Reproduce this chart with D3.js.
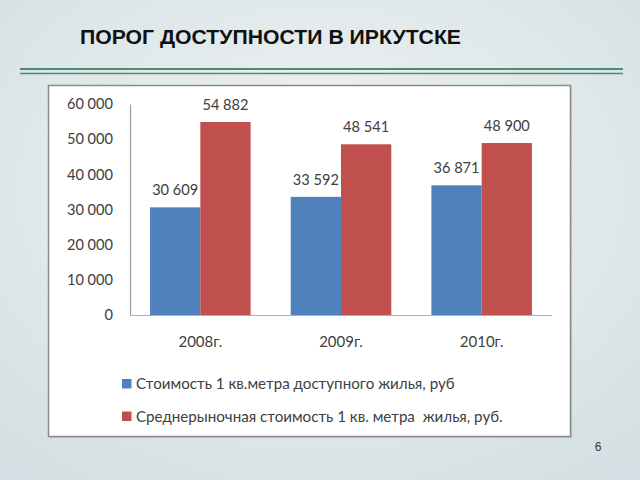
<!DOCTYPE html>
<html><head><meta charset="utf-8">
<script src="https://cdn.jsdelivr.net/npm/d3@7"></script>
<style>html,body{margin:0;padding:0;background:#dfe7ea;}svg{display:block;}</style>
</head><body>
<script>
const title = "ПОРОГ ДОСТУПНОСТИ В ИРКУТСКЕ";
const categories = ["2008г.", "2009г.", "2010г."];
const seriesNames = ["Стоимость 1 кв.метра доступного жилья, руб", "Среднерыночная стоимость 1 кв. метра  жилья, руб."];
const affordable = [30609, 33592, 36871];
const market = [54882, 48541, 48900];
const yTicks = [0, 10000, 20000, 30000, 40000, 50000, 60000];
const pageNumber = "6";
const colors = ["#4F81BD", "#C0504D"];

const W = 640, H = 480;
const svg = d3.select("body").append("svg").attr("width", W).attr("height", H);
const defs = svg.append("defs");
const rg = defs.append("radialGradient").attr("id", "bg").attr("cx", "50%").attr("cy", "40%").attr("r", "75%");
rg.append("stop").attr("offset", "0%").attr("stop-color", "#f1f4f5");
rg.append("stop").attr("offset", "100%").attr("stop-color", "#d3dfe2");
svg.append("rect").attr("width", W).attr("height", H).attr("fill", "url(#bg)");

// title
svg.append("text").attr("x", 80).attr("y", 44).text(title)
  .attr("font-family", "Liberation Sans, Arial, sans-serif").attr("font-weight", "bold")
  .attr("font-size", 20.5).attr("fill", "#111").attr("textLength", 381).attr("lengthAdjust", "spacingAndGlyphs");

// double rule
svg.append("line").attr("x1", 20).attr("x2", 623).attr("y1", 69).attr("y2", 69).attr("stroke", "#4e8c6f").attr("stroke-width", 2);
svg.append("line").attr("x1", 20).attr("x2", 623).attr("y1", 73.5).attr("y2", 73.5).attr("stroke", "#4e8c6f").attr("stroke-width", 1.5);

// chart box
svg.append("rect").attr("x", 50).attr("y", 87).attr("width", 522).attr("height", 351).attr("fill", "#9aa3a6").attr("opacity", 0.4);
svg.append("rect").attr("x", 48.5).attr("y", 85.5).attr("width", 522).attr("height", 351)
  .attr("fill", "#fff").attr("stroke", "#8a8a8a").attr("stroke-width", 1.5);

const font = "Lato, 'Open Sans', sans-serif";
const textColor = "#404040";
const fmt = d3.formatLocale({decimal: ",", thousands: "\u00a0", grouping: [3], currency: ["", ""]}).format(",d");

const x0 = d3.scaleBand().domain(categories).range([130, 552]).paddingInner(0.285).paddingOuter(0.1425);
const x1 = d3.scaleBand().domain([0, 1]).range([0, x0.bandwidth()]);
const y = d3.scaleLinear().domain([0, 60000]).range([315, 104]);

// y axis
const ya = svg.append("g").attr("transform", "translate(130,0)")
  .call(d3.axisLeft(y).tickValues(yTicks).tickSize(0).tickPadding(17).tickFormat(fmt));
ya.select(".domain").attr("stroke", "#9a9a9a").attr("stroke-width", 1.2);
ya.selectAll("text").attr("font-family", font).attr("font-size", 14.6).attr("fill", textColor);

// x axis
const xa = svg.append("g").attr("transform", "translate(0,315)")
  .call(d3.axisBottom(x0).tickSize(0).tickPadding(0).tickSizeOuter(0));
xa.select(".domain").attr("stroke", "#b0b0b0").attr("stroke-width", 1.2).attr("d", "M130,0.5H552");
xa.selectAll("text").attr("font-family", font).attr("font-size", 15).attr("fill", textColor).attr("dy", null).attr("y", 32);

const seriesData = [affordable, market];
const groups = svg.append("g").selectAll("g").data(seriesData).join("g").attr("fill", (d, i) => colors[i]);
groups.each(function(vals, si) {
  const g = d3.select(this);
  g.selectAll("rect").data(vals).join("rect")
    .attr("x", (d, i) => x0(categories[i]) + x1(si))
    .attr("width", x1.bandwidth())
    .attr("y", d => y(d))
    .attr("height", d => y(0) - y(d));
  svg.append("g").selectAll("text").data(vals).join("text")
    .attr("x", (d, i) => x0(categories[i]) + x1(si) + x1.bandwidth() / 2)
    .attr("y", d => y(d) - 12)
    .attr("text-anchor", "middle").attr("font-family", font).attr("font-size", 14.6).attr("fill", textColor)
    .text(d => fmt(d));
});

// legend
const leg = svg.append("g");
seriesNames.forEach((name, i) => {
  const yy = 389 + i * 32.5;
  leg.append("rect").attr("x", 122).attr("y", yy - 10).attr("width", 9.5).attr("height", 9.5).attr("fill", colors[i]);
  leg.append("text").attr("x", 136).attr("y", yy).text(name)
    .attr("font-family", font).attr("font-size", 15.5).attr("fill", textColor).style("white-space", "pre");
});
const targetW = [319, 367];
leg.selectAll("text").each(function(d, i) {
  const w = this.getComputedTextLength();
  d3.select(this).attr("font-size", 15.5 * targetW[i] / w);
});

svg.append("text").attr("x", 598).attr("y", 451).attr("text-anchor", "middle").text(pageNumber)
  .attr("font-family", "Liberation Sans, Arial, sans-serif").attr("font-size", 12).attr("fill", "#333");
</script>
</body></html>
